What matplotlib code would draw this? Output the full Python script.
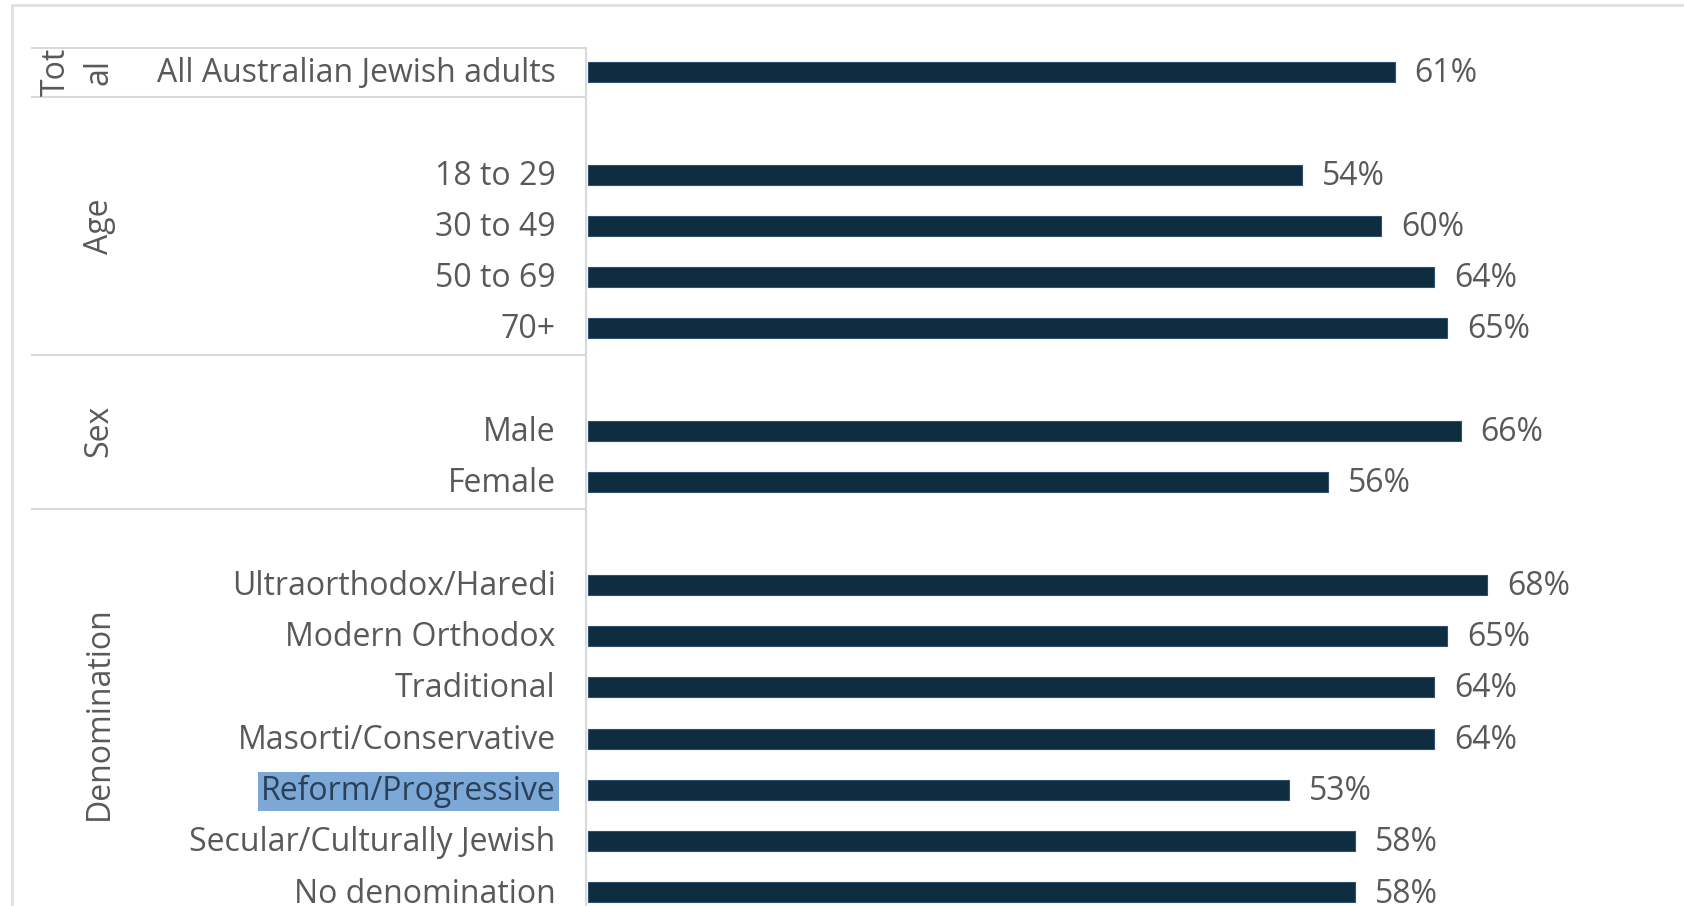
import matplotlib
matplotlib.use("Agg")
import matplotlib.pyplot as plt

# ---- data ----
categories = ["All Australian Jewish adults",
              "18 to 29", "30 to 49", "50 to 69", "70+",
              "Male", "Female",
              "Ultraorthodox/Haredi", "Modern Orthodox", "Traditional",
              "Masorti/Conservative", "Reform/Progressive",
              "Secular/Culturally Jewish", "No denomination"]
values = [61, 54, 60, 64, 65, 66, 56, 68, 65, 64, 64, 53, 58, 58]
groups = ["Total", "Age", "Sex", "Denomination"]
group_sizes = [1, 4, 2, 7]
highlighted = "Reform/Progressive"

# ---- layout ----
W, H = 1684, 906
fig = plt.figure(figsize=(W / 100, H / 100), dpi=100)
ax = fig.add_axes([0, 0, 1, 1])
ax.set_axis_off()

x0_px = 587.5          # pixel where bars start
px_per_unit = 13.23    # pixels per percentage point
row0_px = 72.0
row_px = 51.28
ax.set_xlim(-x0_px / px_per_unit, (W - x0_px) / px_per_unit)
ax.set_ylim((H - row0_px) / row_px, -row0_px / row_px)

FONT = "Open Sans"
FS = 23
GRAY = "#595959"
LINE = "#d9d9d9"
BAR = "#0e2d40"
DY = 0.03

# row positions: a blank row between groups
ypos = []
group_spans = []
r = 0
for gi, n in enumerate(group_sizes):
    if gi > 0:
        r += 1
    start = r
    for _ in range(n):
        ypos.append(r)
        r += 1
    group_spans.append((start, r - 1))

ax.barh(ypos, values, height=0.39, color=BAR, edgecolor="#2f4f73", linewidth=0.8)

for y, v, c in zip(ypos, values, categories):
    ax.text(v + 1.5, y + DY, f"{v}%", ha="left", va="center", fontsize=FS,
            family=FONT, color=GRAY)
    if c == highlighted:
        ax.text(-2.4, y + DY, c, ha="right", va="center", fontsize=FS, family=FONT,
                color="#2b3f57",
                bbox=dict(boxstyle="square,pad=0.1", facecolor="#7ca8d8",
                          edgecolor="none"))
    else:
        ax.text(-2.4, y + DY, c, ha="right", va="center", fontsize=FS, family=FONT,
                color=GRAY)

# group labels
x_left_line = (32 - x0_px) / px_per_unit
x_sep = -0.12
gx = (99 - x0_px) / px_per_unit
for g, (s, e) in zip(groups, group_spans):
    if g == "Total":
        ax.text((56 - x0_px) / px_per_unit, s, "Tot", rotation=90, ha="center",
                va="center", fontsize=FS, family=FONT, color=GRAY)
        ax.text(gx, s, "al", rotation=90, ha="center", va="center",
                fontsize=FS, family=FONT, color=GRAY)
    else:
        ax.text(gx, (s - 1 + e) / 2, g, rotation=90, ha="center", va="center",
                fontsize=FS, family=FONT, color=GRAY)

# separator lines
sep_rows = [-0.47, 0.48, 5.52, 8.52]
for sr in sep_rows:
    ax.plot([x_left_line, x_sep], [sr, sr], color=LINE, lw=1.5, clip_on=False)
ax.plot([x_sep, x_sep], [-0.47, (H - row0_px) / row_px], color=LINE, lw=1.5)

# outer frame
fx = (11.5 - x0_px) / px_per_unit
fy = (5 - row0_px) / row_px
ax.plot([fx, (W - x0_px) / px_per_unit], [fy, fy], color="#e0e0e0", lw=2)
ax.plot([fx, fx], [fy, (H - row0_px) / row_px], color="#e0e0e0", lw=2)

fig.savefig("out.png", dpi=100)
